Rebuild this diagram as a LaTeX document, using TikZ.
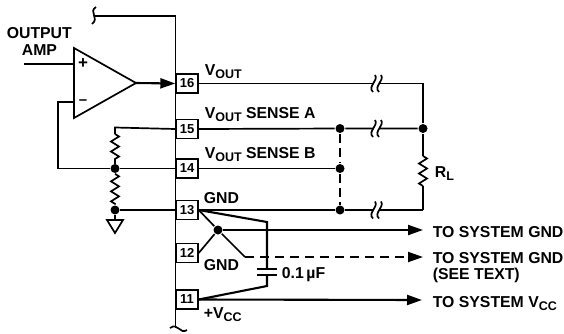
\documentclass[tikz,border=0pt]{standalone}
\usepackage{fontspec}
\setmainfont{Liberation Sans}
\usetikzlibrary{arrows.meta,decorations.pathmorphing}
\newcommand{\lsub}[1]{\raisebox{-3.5pt}{\fontsize{12.5}{12.5}\selectfont #1}}

\begin{document}
\begin{tikzpicture}[x=1pt,y=-1pt,line width=1.7pt,
    pinbox/.style = {draw, line width=1.4pt, fill=white, minimum width=22pt, minimum height=19pt, inner sep=0pt, font=\fontsize{13}{13}\selectfont\bfseries},
    dot/.style = {circle, fill=black, inner sep=0pt, minimum size=9pt},
    lbl/.style = {anchor=base west, inner sep=0pt, font=\fontsize{15.8}{17}\selectfont\bfseries},
    res/.style = {decorate, decoration={zigzag, segment length=10pt, amplitude=4pt}},
    wire/.style = {line width=2.1pt},
    feed/.style = {wire, -{Triangle[length=15pt,width=10pt]}},
    brk/.pic = {\fill[white] (-2,-4) rectangle (4,4);
        \draw (-3,8.5) .. controls (-9,3) and (3,-3) .. (-1,-8.5);
        \draw (3,8.5) .. controls (-3,3) and (9,-3) .. (5,-8.5);}]
    \useasboundingbox (0,0) rectangle (564,333);

    \coordinate (bustop) at (175.5,16);
    \coordinate (busend) at (175.5,328);
    \coordinate (topend) at (94,16);
    \draw (topend) -- (bustop) -- (busend);
    \draw (96,7) .. controls (88,12) and (100,18) .. (92,24);
    \draw (170,328) .. controls (178,322) and (180,335) .. (187,330);

    \node[pinbox] (16) at (187,83.5) {16};
    \node[pinbox] (15) at (187,129) {15};
    \node[pinbox] (14) at (187,168.5) {14};
    \node[pinbox] (13) at (187,210) {13};
    \node[pinbox] (12) at (187,253) {12};
    \node[pinbox] (11) at (187,299.5) {11};

    \coordinate (amptop) at (74,48);
    \coordinate (ampbot) at (74,118);
    \coordinate (ampout) at (136,83);
    \draw (amptop) -- (ampout) -- (ampbot) -- cycle;
    \node[font=\fontsize{17}{17}\selectfont\bfseries, inner sep=0pt] (plus) at (83,64) {+};
    \node[font=\fontsize{15}{15}\selectfont\bfseries, inner sep=0pt] (minus) at (83,102) {--};
    \coordinate (ampin) at (24,64);
    \coordinate (ampfb) at (58,102);
    \draw (ampin) -- (74,64);
    \draw[feed] (ampout) -- (16.west);

    \node[dot] (fbdot) at (115,168.5) {};
    \node[dot] (gnddot) at (115,210) {};
    \coordinate (senseleft) at (115,127.5);
    \draw (74,102) -- (ampfb) |- (fbdot) -- (14.west);
    \draw (15.west) -- (senseleft) -- (115,134);
    \draw[res] (115,134) -- (115,163);
    \draw (115,163) -- (fbdot);
    \draw[res] (fbdot) -- (gnddot);
    \draw (gnddot) -- (13.west);
    \coordinate (gndl) at (107,220);
    \coordinate (gndr) at (123,220);
    \coordinate (gndb) at (115,233);
    \draw (gnddot) -- (115,220);
    \draw (gndl) -- (gndr) -- (gndb) -- cycle;

    \node[dot] (senseA) at (340,128.5) {};
    \node[dot] (senseB) at (340,168.5) {};
    \node[dot] (senseG) at (340,210) {};
    \node[dot] (rtop) at (423,128.5) {};
    \coordinate (vcorner) at (423,83.5);
    \coordinate (gcorner) at (423,210);
    \draw (16.east) -- (vcorner) -- (rtop);
    \draw (15.east) -- (senseA) -- (rtop);
    \draw (14.east) -- (senseB);
    \draw (13.east) -- (senseG) -- (gcorner);
    \draw[dash pattern=on 9pt off 5pt] (senseA) -- (senseB) -- (senseG);
    \draw (rtop) -- (423,156);
    \draw[res] (423,156) -- (423,186);
    \draw (423,186) -- (gcorner);
    \pic at (376,83.5) {brk};
    \pic at (376,128.5) {brk};
    \pic at (376,210) {brk};

    \node[dot] (gndjoin) at (218,230) {};
    \coordinate (dashstart) at (245,257);
    \coordinate (captop) at (267,222);
    \coordinate (capbot) at (267,286);
    \coordinate (plateA) at (267,269);
    \coordinate (plateB) at (267,275);
    \draw[wire] (13.east) -- (captop) -- (plateA);
    \draw[wire] (11.east) -- (capbot) -- (plateB);
    \draw[wire] (257,269) -- (277,269);
    \draw[wire] (257,275) -- (277,275);
    \draw (13.east) -- (gndjoin) -- (dashstart);
    \draw (12.east) -- (gndjoin);
    \coordinate (sysgnd) at (423,230);
    \coordinate (sysdash) at (423,257);
    \coordinate (sysvcc) at (422,300);
    \draw[feed] (gndjoin) -- (sysgnd);
    \draw[feed, line width=1.9pt, dash pattern=on 9pt off 6pt] (dashstart) -- (sysdash);
    \draw[feed] (11.east) -- (sysvcc);

    \node[lbl] (ampa) at (6,38) {OUTPUT};
    \node[lbl] (ampb) at (21,55) {AMP};
    \node[lbl] (vout) at (204,75) {V\lsub{OUT}};
    \node[lbl] (sensa) at (204,118) {V\lsub{OUT} SENSE A};
    \node[lbl] (sensb) at (204,158) {V\lsub{OUT} SENSE B};
    \node[lbl] (gnda) at (203,203) {GND};
    \node[lbl] (gndb2) at (203,270) {GND};
    \node[lbl] (vcc) at (203,318) {+V\lsub{CC}};
    \node[lbl] (cap) at (281,278) {0.1\,µF};
    \node[lbl] (rl) at (434,177) {R\lsub{L}};
    \node[lbl] (toa) at (432,237) {TO SYSTEM GND};
    \node[lbl] (tob) at (432,263) {TO SYSTEM GND};
    \node[lbl] (toc) at (432,279) {(SEE TEXT)};
    \node[lbl] (tod) at (432,307) {TO SYSTEM V\lsub{CC}};
\end{tikzpicture}
\end{document}
